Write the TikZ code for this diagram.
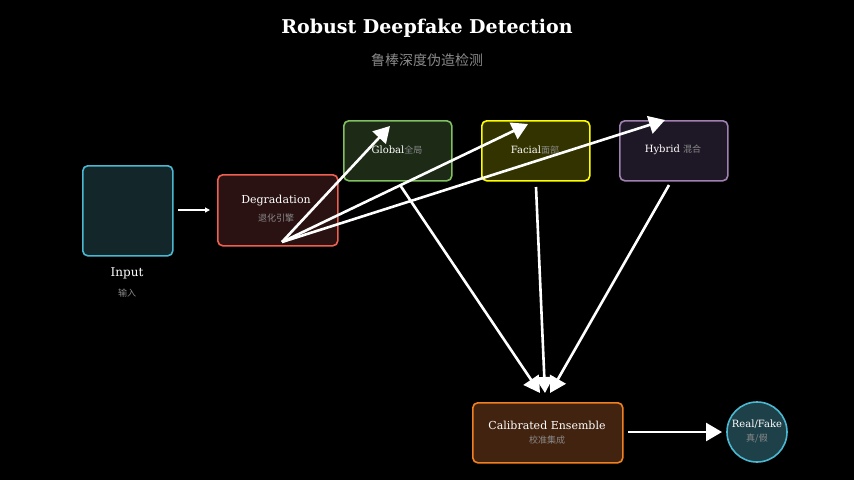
\documentclass[tikz,border=0pt]{standalone}
\usepackage{fontspec}
\setmainfont{DejaVu Serif}
\newfontfamily\cjk{Noto Sans CJK SC}
\usetikzlibrary{arrows.meta}
\definecolor{sub}{HTML}{8A8A8A}
\definecolor{cyanS}{HTML}{4AB8D0}\definecolor{inF}{HTML}{13262A}
\definecolor{degS}{HTML}{F06050}\definecolor{degF}{HTML}{2A1212}
\definecolor{glS}{HTML}{80C060}\definecolor{glF}{HTML}{1C2A16}
\definecolor{faS}{HTML}{FFFF00}\definecolor{faF}{HTML}{333300}
\definecolor{hyS}{HTML}{A080B0}\definecolor{hyF}{HTML}{1E1826}
\definecolor{ceS}{HTML}{F08020}\definecolor{ceF}{HTML}{42230F}
\definecolor{rfF}{HTML}{1E4048}
\begin{document}
\begin{tikzpicture}[x=1pt,y=-1pt,
 box/.style={draw,line width=1.6pt,rounded corners=5pt,anchor=north west,inner sep=0pt},
 lab/.style={text=white,font=\fontsize{10}{12}\selectfont},
 zh/.style={text=sub,font=\cjk\fontsize{9}{11}\selectfont},
 big/.style={draw=white,line width=2.6pt,-{Triangle[length=16pt,width=18pt]}}]
\fill[black] (0,0) rectangle (854,480);
\useasboundingbox (0,0) rectangle (854,480);
\node[text=white,font=\bfseries\fontsize{19}{22}\selectfont] (t) at (427,28) {Robust Deepfake Detection};
\node[text=sub,font=\cjk\fontsize{14}{16}\selectfont] (st) at (427,60) {鲁棒深度伪造检测};
\node[box,draw=cyanS,fill=inF,minimum width=90pt,minimum height=90pt] (in) at (82,165) {};
\node[lab,font=\fontsize{12}{14}\selectfont] (inl) at (127,273) {Input};
\node[zh] (inz) at (127,293) {输入};
\node[box,draw=degS,fill=degF,minimum width=120pt,minimum height=71pt] (deg) at (217,174) {};
\node[lab,font=\fontsize{11}{13}\selectfont] (degl) at (276,201) {Degradation};
\node[zh] (degz) at (276,218) {退化引擎};
\node[box,draw=glS,fill=glF,minimum width=108pt,minimum height=60pt] (gl) at (343,120) {};
\node (gll) at (397,150) {\textcolor{white}{\fontsize{10}{12}\selectfont Global}\textcolor{sub}{\cjk\fontsize{9}{11}\selectfont 全局}};
\node[box,draw=faS,fill=faF,minimum width=108pt,minimum height=60pt] (fa) at (481,120) {};
\node (fal) at (535,150) {\textcolor{white}{\fontsize{10}{12}\selectfont Facial}\textcolor{sub}{\cjk\fontsize{9}{11}\selectfont 面部}};
\node[box,draw=hyS,fill=hyF,minimum width=108pt,minimum height=60pt] (hy) at (619,120) {};
\node (hyl) at (673,150) {\textcolor{white}{\fontsize{10}{12}\selectfont Hybrid }\textcolor{sub}{\cjk\fontsize{9}{11}\selectfont 混合}};
\node[box,draw=ceS,fill=ceF,minimum width=150pt,minimum height=60pt] (ce) at (472,402) {};
\node[lab,font=\fontsize{11}{13}\selectfont] (cel) at (547,425) {Calibrated Ensemble};
\node[zh] (cez) at (547,440) {校准集成};
\node[circle,draw=cyanS,line width=1.6pt,fill=rfF,minimum size=60pt,inner sep=0pt] (rf) at (757,432) {};
\node[lab] (rfl) at (757,424) {Real/Fake};
\node[zh] (rfz) at (757,439) {真/假};
\coordinate (a0) at (178,210); \coordinate (a1) at (210,210);
\draw[white,line width=1.2pt,-{Triangle[length=5pt,width=5pt]}] (a0) -- (a1);
\coordinate (d0) at (282,242);
\coordinate (g0) at (390,126); \coordinate (f0) at (528,124); \coordinate (h0) at (665,120);
\draw[big] (d0) -- (g0);
\draw[big] (d0) -- (f0);
\draw[big] (d0) -- (h0);
\coordinate (gb) at (400,185); \coordinate (fb) at (536,187); \coordinate (hb) at (669,185);
\coordinate (c1) at (540,393); \coordinate (c2) at (545,393); \coordinate (c3) at (550,393);
\draw[big] (gb) -- (c1);
\draw[big] (fb) -- (c2);
\draw[big] (hb) -- (c3);
\coordinate (e0) at (628,432); \coordinate (e1) at (722,432);
\draw[big] (e0) -- (e1);
\end{tikzpicture}
\end{document}
